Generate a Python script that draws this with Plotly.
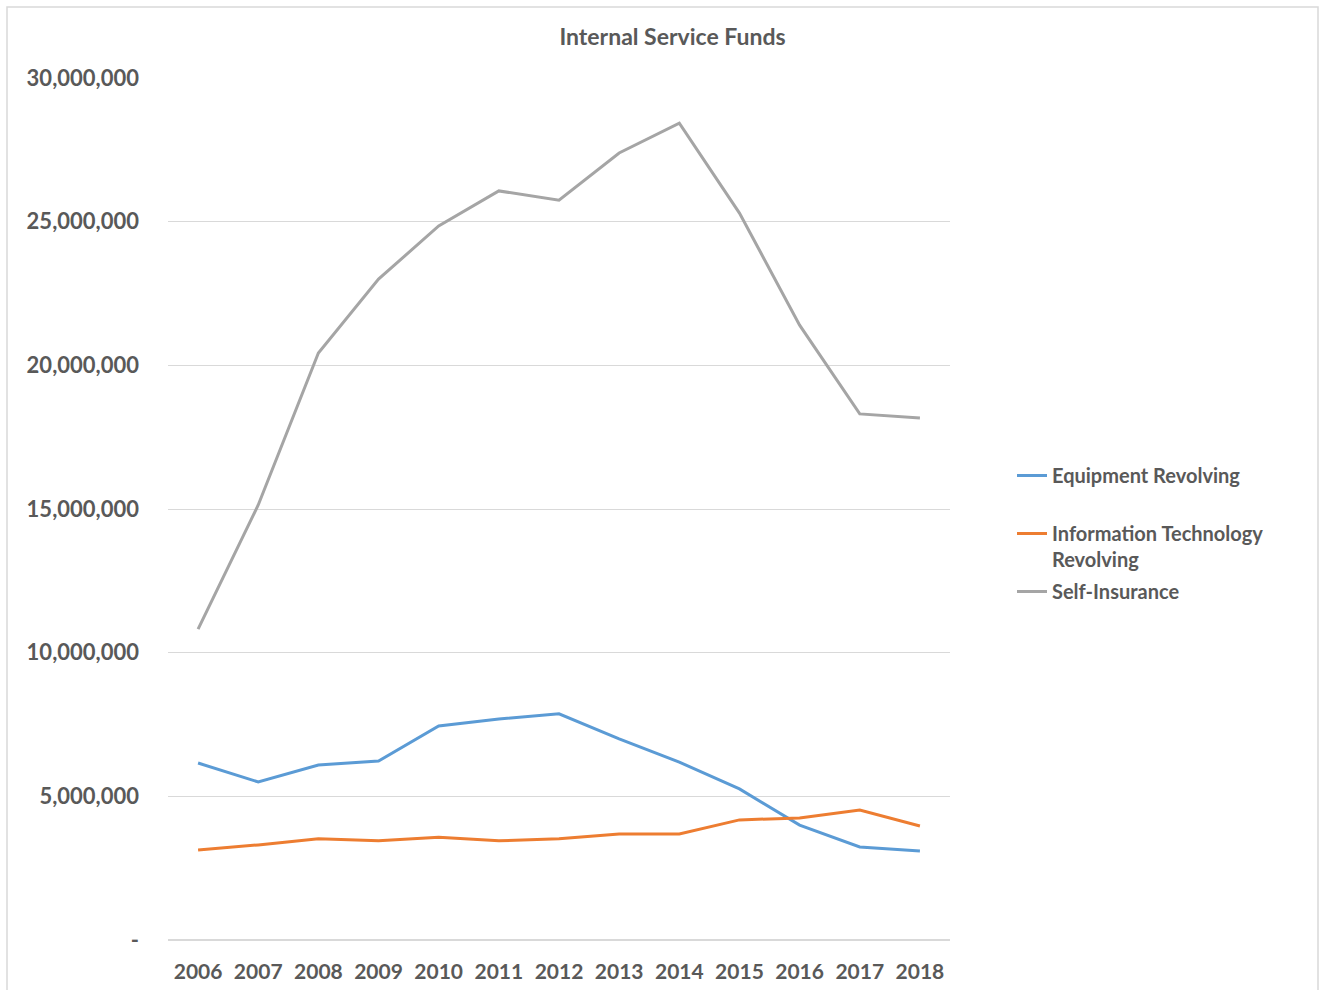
import plotly.graph_objects as go

years = ["2006", "2007", "2008", "2009", "2010", "2011", "2012", "2013", "2014", "2015", "2016", "2017", "2018"]
equipment = [6160000, 5500000, 6090000, 6230000, 7450000, 7690000, 7870000, 7000000, 6190000, 5260000, 4000000, 3240000, 3100000]
info_tech = [3130000, 3310000, 3520000, 3450000, 3580000, 3450000, 3520000, 3690000, 3690000, 4180000, 4250000, 4520000, 3970000]
self_ins = [10820000, 15140000, 20430000, 23000000, 24850000, 26070000, 25750000, 27390000, 28430000, 25300000, 21400000, 18310000, 18170000]
y_ticks = [0, 5000000, 10000000, 15000000, 20000000, 25000000, 30000000]
y_labels = ["-", "5,000,000", "10,000,000", "15,000,000", "20,000,000", "25,000,000", "30,000,000"]

FONT = "Lato"
GRAY = "#595959"

fig = go.Figure()
series = [
    ("<b>Equipment Revolving</b>", equipment, "#5b9bd5"),
    ("<br><b>Information Technology</b><br><b>Revolving</b>", info_tech, "#ed7d31"),
    ("<b>Self-Insurance</b>", self_ins, "#a5a5a5"),
]
for i, (name, vals, col) in enumerate(series):
    fig.add_trace(go.Scatter(x=years, y=vals, mode="lines", name=name,
                             line=dict(color=col, width=3), legendgroup=str(i)))

fig.update_layout(
    width=1321, height=990,
    margin=dict(l=168, r=371, t=78, b=50, autoexpand=False),
    paper_bgcolor="white", plot_bgcolor="white",
    title=dict(text="<b>Internal Service Funds</b>", x=(558 + 787) / 2 / 1321, xanchor="center",
               y=1 - 37 / 990, yanchor="middle",
               font=dict(family=FONT, size=23, color=GRAY)),
    font=dict(family=FONT, color=GRAY),
    xaxis=dict(type="category", range=[-0.5, 12.5], showgrid=False, showline=False, ticks="",
               tickfont=dict(family=FONT, size=21, color=GRAY), tickprefix="<b>", ticksuffix="</b>",
               ticklabelstandoff=17, automargin=False),
    yaxis=dict(range=[0, 30000000], tickvals=y_ticks, ticktext=["<b>" + t + "</b>" for t in y_labels],
               showgrid=True, gridcolor="#d9d9d9", gridwidth=1, zeroline=True, zerolinecolor="#d9d9d9",
               showline=False, ticks="", ticklabelstandoff=28, automargin=False,
               tickfont=dict(family=FONT, size=22, color=GRAY)),
    legend=dict(x=1012 / 1321, xref="container", y=1 - 456 / 990, yref="container",
                xanchor="left", yanchor="top",
                font=dict(family=FONT, size=20, color=GRAY), tracegroupgap=3, itemwidth=30,
                bgcolor="rgba(0,0,0,0)"),
    showlegend=True,
)

fig.add_shape(type="rect", xref="paper", yref="paper",
              x0=(7 - 168) / 782, x1=(1318 - 168) / 782,
              y0=(940 - 1000) / 862, y1=(940 - 7) / 862,
              line=dict(color="#d9d9d9", width=1.5), fillcolor="rgba(0,0,0,0)", layer="below")

fig.write_html("out.html")
